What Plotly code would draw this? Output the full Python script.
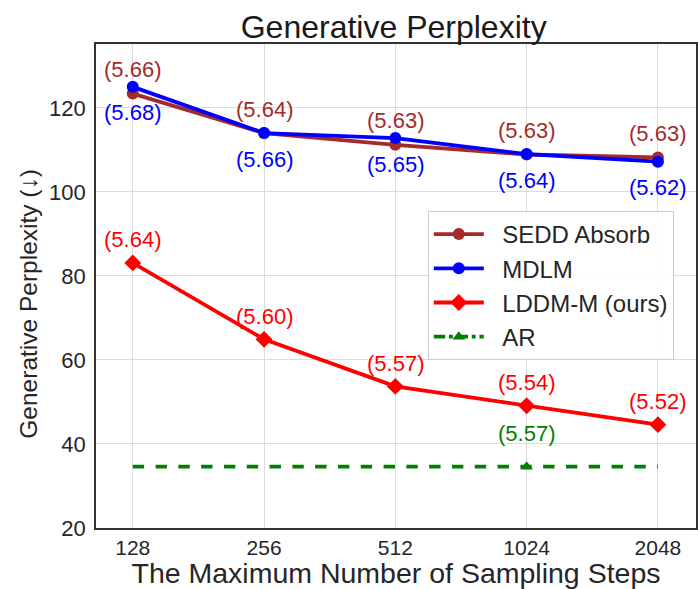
import numpy as np
import plotly.graph_objects as go

steps = [128, 256, 512, 1024, 2048]
tick_labels = ["128", "256", "512", "1024", "2048"]
y_ticks = [20, 40, 60, 80, 100, 120]
sedd = [123.4, 114.0, 111.2, 108.9, 108.2]
mdlm = [125.0, 114.0, 112.8, 109.0, 107.2]
lddm = [83.1, 64.9, 53.7, 49.1, 44.6]
ar_value = 34.6
ar_marker_step = 1024
sedd_lbl = ["(5.66)", "(5.64)", "(5.63)", "(5.63)", "(5.63)"]
mdlm_lbl = ["(5.68)", "(5.66)", "(5.65)", "(5.64)", "(5.62)"]
lddm_lbl = ["(5.64)", "(5.60)", "(5.57)", "(5.54)", "(5.52)"]
ar_lbl = "(5.57)"
names = ["SEDD Absorb", "MDLM", "LDDM-M (ours)", "AR"]
y_title = "Generative Perplexity (↓)"
x_title = "The Maximum Number of Sampling Steps"
chart_title = "Generative Perplexity"

C_SEDD = "#a52a2a"
C_MDLM = "#0000ff"
C_LDDM = "#ff0000"
C_AR = "#008000"
TXT = "#262626"
FONT = "Liberation Sans, Arial, sans-serif"
PAD_L = "\u00a0\u00a0"

fig = go.Figure()
fig.add_trace(go.Scatter(x=steps, y=sedd, name=PAD_L + names[0], mode="lines+markers",
                         line=dict(color=C_SEDD, width=3.8),
                         marker=dict(symbol="circle", size=12, color=C_SEDD)))
fig.add_trace(go.Scatter(x=steps, y=mdlm, name=PAD_L + names[1], mode="lines+markers",
                         line=dict(color=C_MDLM, width=3.8),
                         marker=dict(symbol="circle", size=12, color=C_MDLM)))
fig.add_trace(go.Scatter(x=steps, y=lddm, name=PAD_L + names[2], mode="lines+markers",
                         line=dict(color=C_LDDM, width=3.8),
                         marker=dict(symbol="diamond", size=13, color=C_LDDM)))
fig.add_trace(go.Scatter(x=[steps[0], steps[-1]], y=[ar_value, ar_value], mode="lines",
                         line=dict(color=C_AR, width=3.8, dash="dash"), showlegend=False))
fig.add_trace(go.Scatter(x=[ar_marker_step], y=[ar_value], mode="markers",
                         marker=dict(symbol="triangle-up", size=11, color=C_AR), showlegend=False))
fig.add_trace(go.Scatter(x=[None], y=[None], name=PAD_L + names[3], mode="lines+markers",
                         line=dict(color=C_AR, width=3.8, dash="dashdot"),
                         marker=dict(symbol="triangle-up", size=11, color=C_AR)))

ann = []
def add_labels(xs, ys, labels, color, shift):
    for xv, yv, t in zip(xs, ys, labels):
        ann.append(dict(x=np.log10(xv), y=yv, xref="x", yref="y", text=t, showarrow=False,
                        yshift=shift, font=dict(size=22, color=color, family=FONT)))

add_labels(steps, sedd, sedd_lbl, C_SEDD, 24)
add_labels(steps, mdlm, mdlm_lbl, C_MDLM, -26)
add_labels(steps, lddm, lddm_lbl, C_LDDM, 23)
add_labels([ar_marker_step], [ar_value], [ar_lbl], C_AR, 33)

ann.append(dict(x=-0.112, y=0.463, xref="paper", yref="paper", text=y_title, textangle=-90,
                showarrow=False, xanchor="center", yanchor="middle",
                font=dict(size=24.5, color=TXT, family=FONT)))

lo = np.log10(128) - 0.28 * np.log10(2)
hi = np.log10(2048) + 0.29 * np.log10(2)

fig.update_layout(
    width=698, height=589,
    margin=dict(l=96, r=2, t=44, b=61, autoexpand=False),
    paper_bgcolor="white", plot_bgcolor="white",
    font=dict(family=FONT, size=22, color=TXT),
    title=dict(text=chart_title, x=0.564, xanchor="center", y=0.955, yanchor="middle",
               font=dict(size=32, color="#1a1a1a")),
    annotations=ann,
    legend=dict(x=0.553, y=0.655, xanchor="left", yanchor="top",
                bgcolor="rgba(255,255,255,0.9)", bordercolor="#cccccc", borderwidth=1,
                font=dict(size=24, color=TXT), itemwidth=50, tracegroupgap=0),
    xaxis=dict(type="log", range=[lo, hi], tickvals=steps, ticktext=tick_labels,
               showgrid=True, gridcolor="#dcdcdc", gridwidth=1.3,
               showline=True, linecolor="#333", linewidth=1.8, mirror=True,
               ticks="", ticklen=0, tickfont=dict(size=21, color=TXT), automargin=False,
               title=dict(text=x_title, font=dict(size=28.5, color=TXT), standoff=6),
               zeroline=False),
    yaxis=dict(range=[20, 135.2], tickvals=y_ticks,
               showgrid=True, gridcolor="#dcdcdc", gridwidth=1.3,
               showline=True, linecolor="#333", linewidth=1.8, mirror=True,
               ticks="", ticklen=0, ticklabelstandoff=4, tickfont=dict(size=22, color=TXT),
               automargin=False, zeroline=False),
)

fig.write_html("out.html", config={"displayModeBar": False},
               post_script="document.body.style.margin='0';")
